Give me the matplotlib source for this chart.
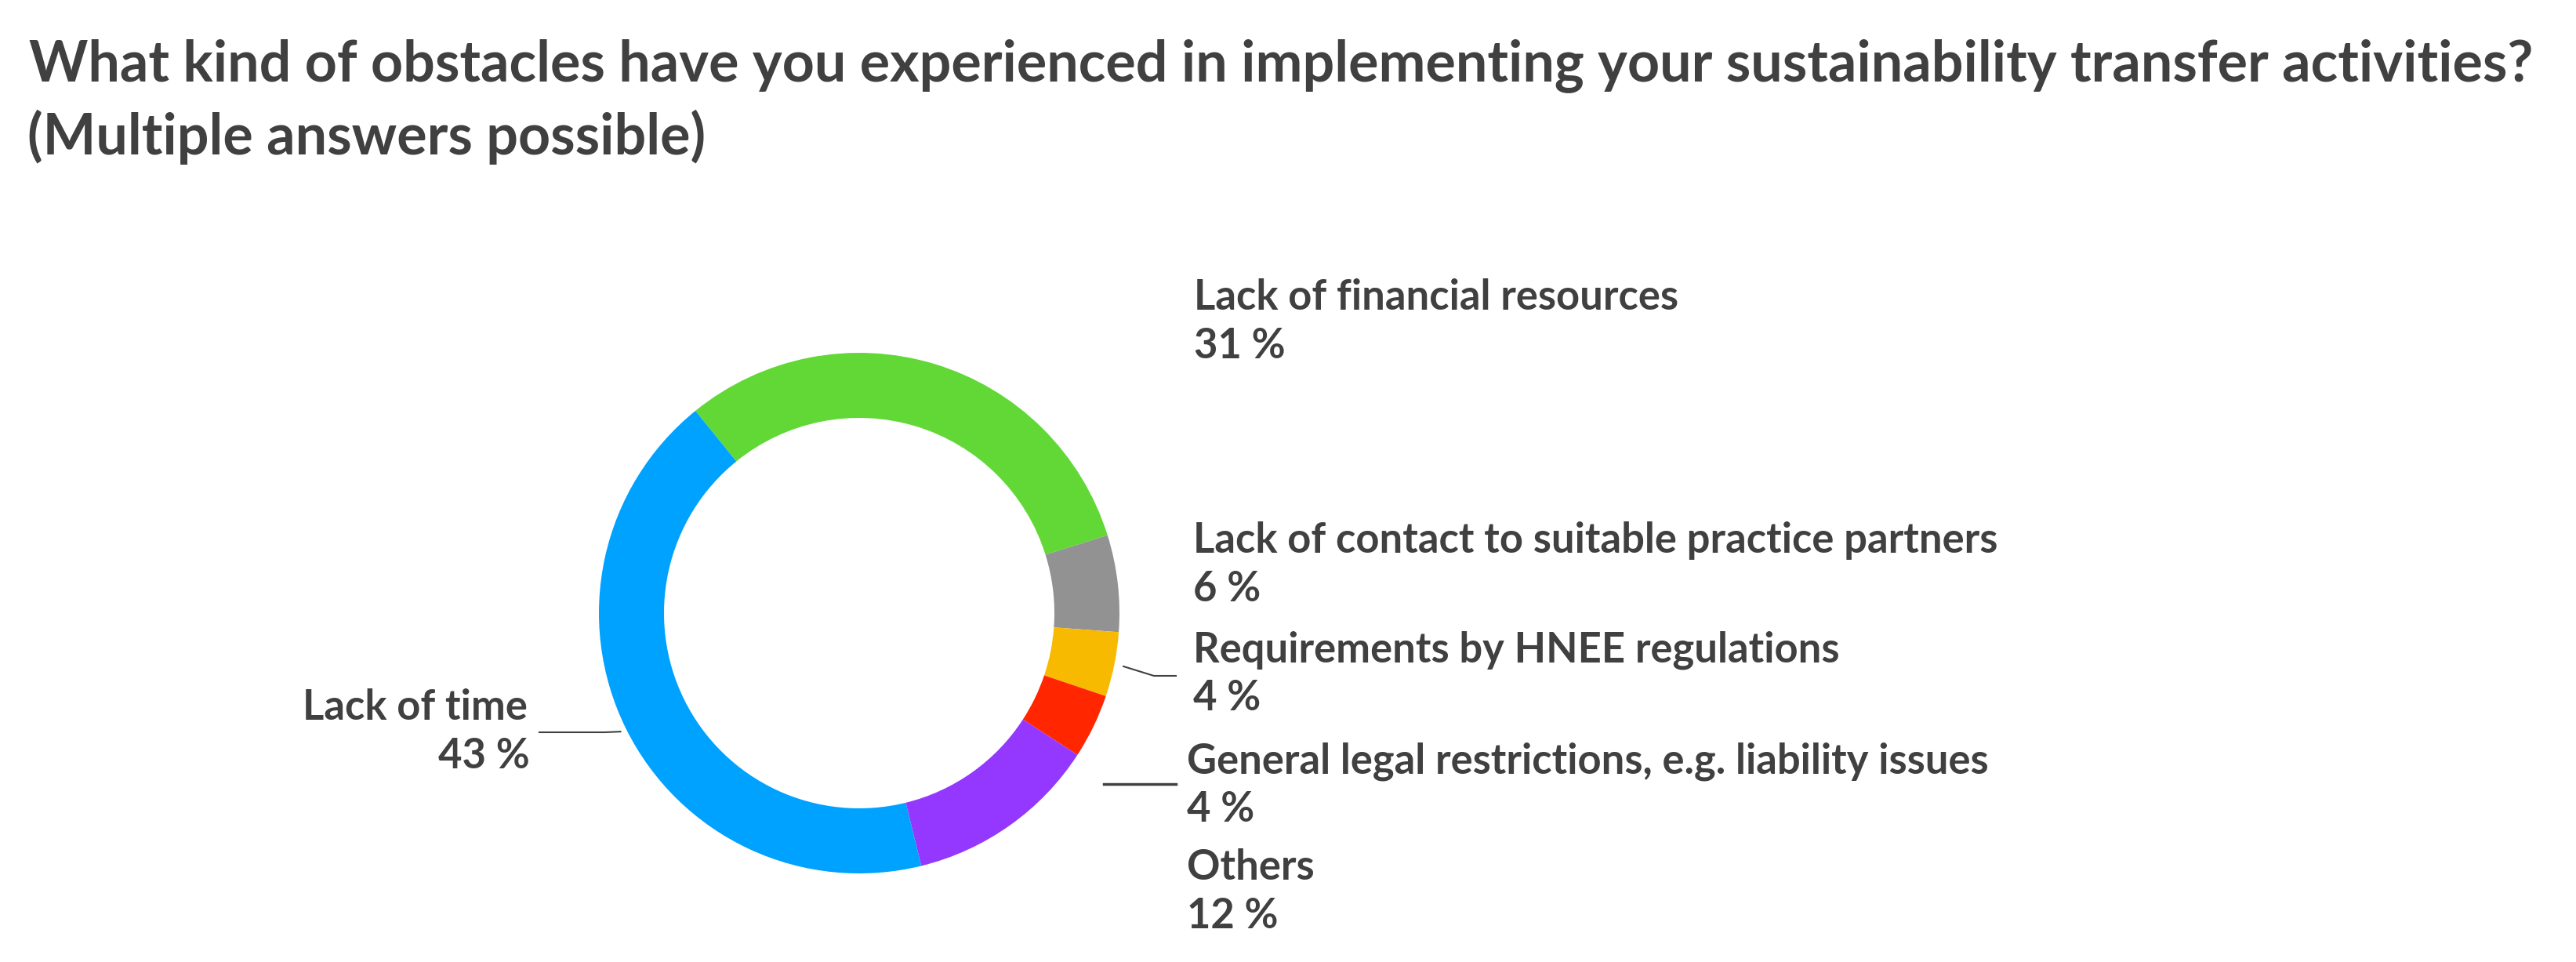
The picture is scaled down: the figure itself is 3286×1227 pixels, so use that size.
import numpy as np
import matplotlib
matplotlib.use("Agg")
import matplotlib.pyplot as plt

# data
categories = ["Lack of financial resources",
              "Lack of contact to suitable practice partners",
              "Requirements by HNEE regulations",
              "General legal restrictions, e.g. liability issues",
              "Others",
              "Lack of time"]
shares = [31, 6, 4, 4, 12, 43]
colors = ["#61D836", "#929292", "#F8BA00", "#FF2600", "#9437FF", "#00A2FF"]
title = ("What kind of obstacles have you experienced in implementing your sustainability transfer activities?\n"
         "(Multiple answers possible)")

W, H = 3286, 1227
TXT = "#404040"
plt.rcParams["font.family"] = ["Lato", "DejaVu Sans"]

fig = plt.figure(figsize=(W / 100, H / 100), dpi=100)
ax = fig.add_axes([0, 0, 1, 1])
ax.set_xlim(0, W)
ax.set_ylim(0, H)
ax.set_aspect("equal")
ax.axis("off")

def Y(y):                       # picture rows -> data y
    return H - y

cx, cy, R = 1096, 782, 332
wedges, _ = ax.pie(shares, colors=colors, startangle=129, counterclock=False,
                   center=(cx, Y(cy)), radius=R, frame=True,
                   wedgeprops=dict(width=R * 0.25, linewidth=0))
ax.set_xlim(0, W)
ax.set_ylim(0, H)
ax.axis("off")

# title
renderer = fig.canvas.get_renderer()
t1 = ax.text(37, Y(103), title.split("\n")[0], fontsize=50, fontweight="bold", color=TXT, va="baseline")
w = t1.get_window_extent(renderer).width
t1.set_fontsize(50 * 3200 / w)
ax.text(35, Y(197), title.split("\n")[1], fontsize=t1.get_fontsize(), fontweight="bold", color=TXT, va="baseline")

# label font size fitted to the widest label
probe = ax.text(0, 0, categories[1], fontsize=30, fontweight="bold")
lab_fs = 30 * 1025 / probe.get_window_extent(renderer).width
probe.remove()

# label layout: (x, baseline of first line, alignment)
spots = [(1523, 395, "left"), (1522, 705, "left"), (1522, 844, "left"),
         (1514, 986, "left"), (1514, 1122, "left"), (673, 918, "right")]
for cat, val, (x, yb, ha) in zip(categories, shares, spots):
    ax.text(x, Y(yb), cat, fontsize=lab_fs, fontweight="bold", color=TXT, ha=ha, va="baseline")
    ax.text(x + (3 if ha == "right" else 0), Y(yb + 62), f"{val} %", fontsize=lab_fs,
            fontweight="bold", color=TXT, ha=ha, va="baseline")

# leader lines from the wedge middles to the labels
def mid_point(wdg, r):
    a = np.deg2rad((wdg.theta1 + wdg.theta2) / 2)
    return cx + r * np.cos(a), Y(cy) + r * np.sin(a)

x0, y0 = mid_point(wedges[2], R + 12)
ax.plot([x0, 1472, 1500], [y0, Y(862), Y(862)], color="#404040", lw=1.5)
ax.plot([1408, 1500], [Y(1000), Y(1000)], color="#404040", lw=2.5)
x0, y0 = mid_point(wedges[5], R + 8)
ax.plot([x0, 772, 688], [y0, Y(934), Y(934)], color="#404040", lw=1.5)

fig.savefig("out.png", dpi=100, facecolor="white")
